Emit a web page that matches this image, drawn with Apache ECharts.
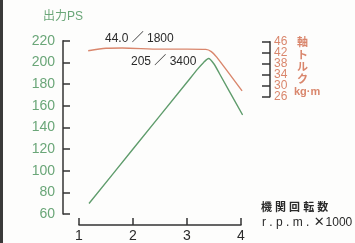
<!DOCTYPE html>
<html>
<head>
<meta charset="utf-8">
<style>
html,body{margin:0;padding:0;background:#fdfdfc;}
#c{width:355px;height:243px;}
</style>
<script src="https://cdn.jsdelivr.net/npm/echarts@6/dist/echarts.min.js"></script>
</head>
<body>
<div id="c"></div>
<script>
// Data (rpm x1000)
var rpmTicks = [1, 2, 3, 4];
var powerTicks = [60, 80, 100, 120, 140, 160, 180, 200, 220];
var torqueTicks = [26, 30, 34, 38, 42, 46];

var powerRpm = [1.185, 2.0, 3.0, 3.2, 3.3, 3.4, 3.5, 3.6, 4.03];
var powerPS  = [69.7, 120, 181.6, 194, 199.5, 203.5, 198.5, 189.7, 151.5];

var torqueRpm = [1.17, 1.5, 1.8, 2.5, 3.0, 3.35, 3.45, 3.55, 4.02];
var torqueKgm = [42.7, 43.6, 43.7, 43.3, 43.3, 43.2, 42.4, 40.4, 28.1];

var FONT = '"Liberation Sans", Arial, "Noto Sans CJK JP", sans-serif';
var GREEN = '#5f9c6c';
var GREEN_TXT = '#6aa678';
var ORANGE = '#d9866c';
var DARK = '#2a2a2a';

function pairs(xs, ys) { return xs.map(function (x, i) { return [x, ys[i]]; }); }

var chart = echarts.init(document.getElementById('c'));
chart.setOption({
  backgroundColor: '#fdfdfc',
  animation: false,
  textStyle: { fontFamily: FONT },
  grid: [
    { left: 79, right: 114, top: 40.7, bottom: 26.3 },
    { left: 79, right: 114, top: 41.7, height: 55 }
  ],
  xAxis: [
    {
      type: 'value', gridIndex: 0, min: rpmTicks[0], max: rpmTicks[rpmTicks.length - 1], interval: 1,
      offset: 11,
      axisLine: { show: true, onZero: false, lineStyle: { color: '#333', width: 1.5 } },
      axisTick: { show: true, inside: true, length: 7, lineStyle: { color: '#333', width: 1.5 } },
      axisLabel: { color: DARK, fontSize: 14, margin: 4, fontFamily: FONT, showMinLabel: true, showMaxLabel: true },
      splitLine: { show: false }
    },
    {
      type: 'value', gridIndex: 1, min: 1, max: 4, show: false
    }
  ],
  yAxis: [
    {
      type: 'value', gridIndex: 0, min: powerTicks[0], max: powerTicks[powerTicks.length - 1], interval: 20,
      offset: 16,
      axisLine: { show: true, onZero: false, lineStyle: { color: '#333', width: 1.5 } },
      axisTick: { show: true, inside: true, length: 7, lineStyle: { color: '#333', width: 1.5 } },
      axisLabel: { color: GREEN_TXT, fontSize: 14, margin: 8, fontFamily: FONT, showMinLabel: true, showMaxLabel: true },
      splitLine: { show: false }
    },
    {
      type: 'value', gridIndex: 1, position: 'right', offset: 29,
      min: torqueTicks[0], max: torqueTicks[torqueTicks.length - 1], interval: 4,
      show: false
    },
    {
      type: 'category', gridIndex: 1, position: 'right', offset: 29,
      data: torqueTicks.map(String), boundaryGap: false,
      axisLine: { show: true, onZero: false, lineStyle: { color: '#333', width: 1.5 } },
      axisTick: { show: true, inside: true, length: 8, interval: 0, lineStyle: { color: '#333', width: 1.5 } },
      axisLabel: { color: ORANGE, fontSize: 12, margin: 4, interval: 0, fontFamily: FONT },
      splitLine: { show: false }
    }
  ],
  series: [
    {
      type: 'line', xAxisIndex: 0, yAxisIndex: 0, data: pairs(powerRpm, powerPS),
      smooth: 0.25, symbol: 'none', lineStyle: { color: GREEN, width: 1.4 }
    },
    {
      type: 'line', xAxisIndex: 1, yAxisIndex: 1, data: pairs(torqueRpm, torqueKgm),
      smooth: 0.25, symbol: 'none', lineStyle: { color: ORANGE, width: 1.4 }
    }
  ],
  graphic: [
    { type: 'rect', shape: { x: 0, y: 0, width: 3, height: 243 }, style: { fill: '#3a3a3a' } },
    { type: 'text', left: 43, top: 11, style: { text: '出力PS', fill: GREEN_TXT, font: '12px ' + FONT } },
    { type: 'text', left: 105, top: 33, style: { text: '44.0 ／ 1800', fill: DARK, font: '12px ' + FONT } },
    { type: 'text', left: 131, top: 56, style: { text: '205 ／ 3400', fill: DARK, font: '12px ' + FONT } },
    { type: 'text', left: 297, top: 37, style: { text: '軸', fill: ORANGE, font: 'bold 11px ' + FONT } },
    { type: 'text', left: 297, top: 50, style: { text: 'ト', fill: ORANGE, font: 'bold 11px ' + FONT } },
    { type: 'text', left: 297, top: 62, style: { text: 'ル', fill: ORANGE, font: 'bold 11px ' + FONT } },
    { type: 'text', left: 297, top: 74, style: { text: 'ク', fill: ORANGE, font: 'bold 11px ' + FONT } },
    { type: 'text', left: 294, top: 86, style: { text: 'kg·m', fill: ORANGE, font: 'bold 11px ' + FONT } },
    { type: 'text', left: 261, top: 202, style: { text: '機 関 回 転 数', fill: DARK, font: 'bold 11px ' + FONT } },
    { type: 'text', left: 262, top: 216, style: {
        text: '{a|r . p . m . }{b|✕}{a|1000}',
        rich: {
          a: { fill: DARK, fontSize: 12, fontFamily: FONT },
          b: { fill: DARK, fontSize: 13, fontFamily: '"DejaVu Sans", "Noto Sans CJK JP", sans-serif', padding: [0, 1, 0, 1] }
        }
    } }
  ]
});
</script>
</body>
</html>
